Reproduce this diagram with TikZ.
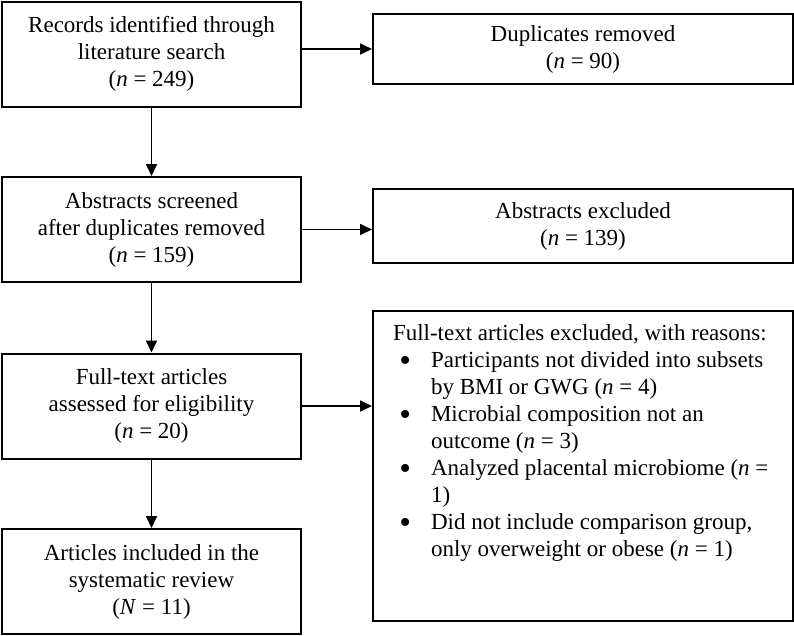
\documentclass[tikz,border=0pt]{standalone}
\usepackage{fontspec}
\setmainfont{Liberation Serif}
\usetikzlibrary{arrows.meta}

\newcommand{\bigbullet}{\raisebox{-3.5pt}{\scalebox{1.45}{\textbullet}}}

\begin{document}
\begin{tikzpicture}[x=1pt, y=1pt, font=\fontsize{23}{27}\selectfont,
    box/.style={draw, line width=2pt, align=center, inner sep=0pt},
    leftbox/.style={box, minimum width=299, minimum height=105},
    rightbox/.style={box, minimum width=420},
    arrow/.style={line width=1.7pt, -{Triangle[length=12pt, width=11pt]}}]
    \useasboundingbox (0, 0) rectangle (794, -635);

    \node[leftbox] (records) at (151.5, -54) {Records identified through\\literature search\\(\textit{n} = 249)};
    \node[leftbox] (screened) at (151.5, -229.5) {Abstracts screened\\after duplicates removed\\(\textit{n} = 159)};
    \node[leftbox] (fulltext) at (151.5, -406) {Full-text articles\\assessed for eligibility\\(\textit{n} = 20)};
    \node[leftbox] (included) at (151.5, -581.5) {Articles included in the\\systematic review\\(\textit{N} = 11)};

    \node[rightbox, minimum height=70] (dup) at (583, -49) {Duplicates removed\\(\textit{n} = 90)};
    \node[rightbox, minimum height=74] (absx) at (583, -226) {Abstracts excluded\\(\textit{n} = 139)};
    \node[rightbox, minimum height=310, anchor=north] (ftx) at (583, -310) {%
      \begin{minipage}[t][282pt][t]{380pt}\raggedright
        Full-text articles excluded, with reasons:
        \begin{list}{\bigbullet}{\setlength{\leftmargin}{38pt}\setlength{\labelwidth}{17pt}%
            \setlength{\labelsep}{20pt}\setlength{\itemsep}{0pt}\setlength{\parsep}{0pt}%
            \setlength{\topsep}{0pt}\setlength{\partopsep}{0pt}}
          \item Participants not divided into subsets\\by BMI or GWG (\textit{n} = 4)
          \item Microbial composition not an\\outcome (\textit{n} = 3)
          \item Analyzed placental microbiome (\textit{n} =\\1)
          \item Did not include comparison group,\\only overweight or obese (\textit{n} = 1)
        \end{list}
      \end{minipage}};

    \draw[arrow] (records) -- (screened);
    \draw[arrow] (screened) -- (fulltext);
    \draw[arrow] (fulltext) -- (included);

    \draw[arrow] (records.east |- dup.west) -- (dup.west);
    \draw[arrow] (screened.east) -- (screened.east -| absx.west);
    \draw[arrow] (fulltext.east) -- (fulltext.east -| ftx.west);
  \end{tikzpicture}
\end{document}
